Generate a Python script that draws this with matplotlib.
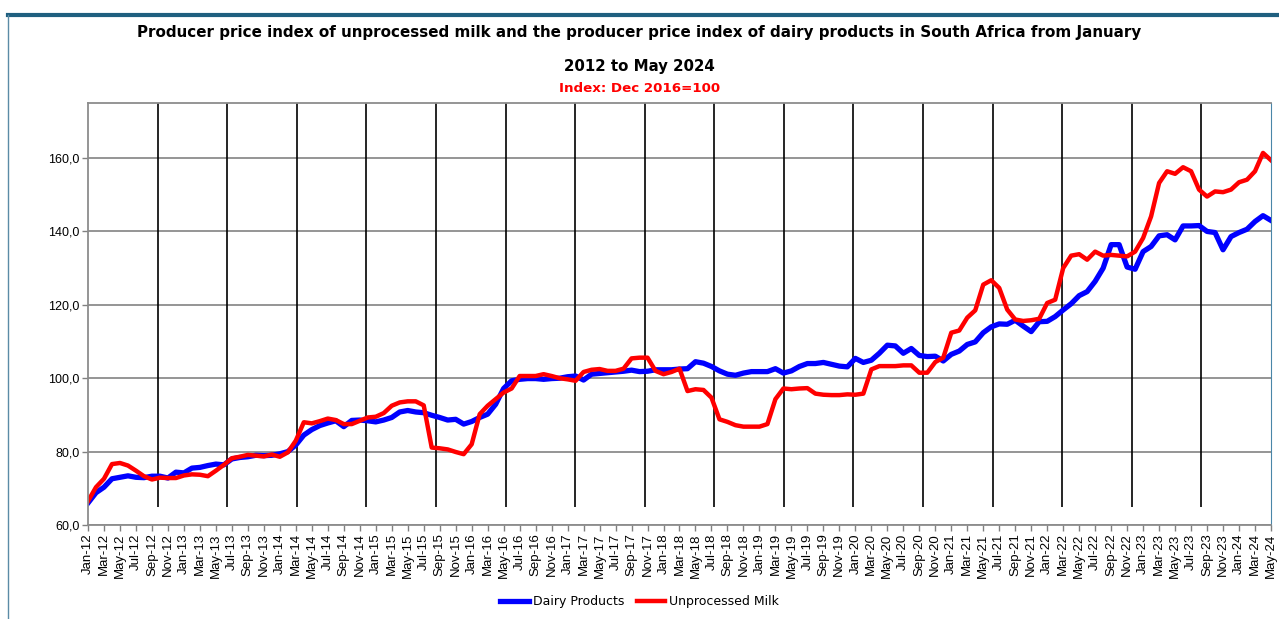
import numpy as np
import pandas as pd
import matplotlib.pyplot as plt
from matplotlib import font_manager
from matplotlib.lines import Line2D

# monthly index values, Jan 2012 .. May 2024 (Dec 2016 = 100)
months = pd.date_range('2012-01-01', periods=149, freq='MS').strftime('%b-%y').tolist()

dairy = [66.0, 68.8, 70.3, 72.6, 73.0, 73.4, 73.0, 72.9, 73.3, 73.3, 72.8, 74.4,
         74.2, 75.5, 75.7, 76.2, 76.6, 76.4, 78.0, 78.4, 78.6, 79.0, 78.9, 79.0,
         79.4, 80.0, 81.8, 84.5, 86.0, 87.1, 87.8, 88.4, 86.8, 88.5, 88.6, 88.4,
         88.1, 88.6, 89.3, 90.8, 91.2, 90.8, 90.6, 89.9, 89.3, 88.6, 88.8, 87.5,
         88.2, 89.3, 90.2, 92.9, 97.2, 99.3, 99.7, 99.9, 99.9, 99.7, 99.9, 100.0,
         100.4, 100.6, 99.5, 101.1, 101.3, 101.5, 101.7, 101.9, 102.2, 101.8, 101.9, 102.3,
         102.3, 102.3, 102.5, 102.6, 104.5, 104.1, 103.2, 102.0, 101.1, 100.8, 101.4, 101.8,
         101.8, 101.8, 102.6, 101.4, 102.0, 103.2, 104.0, 104.0, 104.3, 103.8, 103.3, 103.1,
         105.4, 104.3, 104.9, 106.8, 109.0, 108.8, 106.8, 108.1, 106.2, 105.9, 106.0, 104.7,
         106.5, 107.4, 109.2, 109.9, 112.4, 114.0, 114.8, 114.7, 115.8, 114.2, 112.7, 115.4,
         115.5, 116.8, 118.6, 120.3, 122.5, 123.6, 126.4, 130.0, 136.4, 136.4, 130.3, 129.7,
         134.5, 135.9, 138.8, 139.1, 137.7, 141.5, 141.5, 141.6, 140.0, 139.7, 135.0, 138.6,
         139.7, 140.6, 142.7, 144.3, 143.0]

milk = [66.5, 70.3, 72.6, 76.6, 76.9, 76.2, 74.8, 73.3, 72.4, 72.9, 72.8, 72.8,
        73.5, 73.8, 73.7, 73.3, 74.8, 76.4, 78.2, 78.6, 79.1, 78.9, 78.7, 79.2,
        78.6, 79.8, 83.0, 88.0, 87.7, 88.3, 89.0, 88.6, 87.5, 87.5, 88.4, 89.3,
        89.5, 90.5, 92.5, 93.4, 93.7, 93.7, 92.6, 81.1, 80.9, 80.6, 79.9, 79.3,
        82.0, 90.2, 92.5, 94.3, 96.1, 97.2, 100.6, 100.6, 100.6, 101.1, 100.6, 100.0,
        99.7, 99.3, 101.7, 102.3, 102.5, 102.0, 102.0, 102.6, 105.4, 105.6, 105.6, 102.0,
        101.1, 101.7, 102.6, 96.5, 97.0, 96.8, 94.7, 88.8, 88.1, 87.2, 86.8, 86.8,
        86.8, 87.5, 94.3, 97.2, 97.0, 97.2, 97.3, 95.8, 95.5, 95.4, 95.4, 95.6,
        95.5, 95.8, 102.4, 103.3, 103.3, 103.3, 103.5, 103.5, 101.5, 101.5, 104.4, 105.6,
        112.4, 113.0, 116.5, 118.5, 125.5, 126.7, 124.6, 118.7, 116.0, 115.6, 115.8, 116.2,
        120.5, 121.4, 130.0, 133.4, 133.8, 132.3, 134.5, 133.4, 133.6, 133.4, 133.2, 134.5,
        138.2, 144.1, 153.2, 156.4, 155.7, 157.5, 156.4, 151.4, 149.5, 150.9, 150.7, 151.4,
        153.4, 154.1, 156.4, 161.4, 159.4]

yticks = [60, 80, 100, 120, 140, 160]

# pick a narrow font if one is around, else plain Liberation Sans
narrow_name = 'Liberation Sans'
for f in font_manager.fontManager.ttflist:
    if 'Narrow' in f.name or 'Condensed' in f.name or 'condensed' in str(f.stretch):
        narrow_name = f.name
        break
narrow = [narrow_name, 'DejaVu Sans']
plt.rcParams['font.family'] = ['Liberation Sans', 'DejaVu Sans']

fig = plt.figure(figsize=(12.79, 6.19), dpi=100)
W, H = 1279, 619
ax = fig.add_axes([88 / W, 1 - 525 / H, (1271 - 88) / W, (525 - 103) / H])

x = np.arange(len(months))
ax.plot(x, dairy, color='#0000FF', lw=3.8, label='Dairy Products')
ax.plot(x, milk, color='#FF0000', lw=3.2, label='Unprocessed Milk')

ax.set_xlim(0, len(months) - 1)
ax.set_ylim(60, 175)

# horizontal grid + black vertical divider lines
ax.set_yticks(yticks)
ax.set_yticklabels([f'{v:.1f}'.replace('.', ',') for v in yticks], fontsize=9)
ax.yaxis.grid(True, color='#8c8c8c', lw=1.3)
ax.set_axisbelow(True)
ax.vlines(np.linspace(0, len(months) - 1, 18)[1:-1], 65, 175, color='black', lw=1.2, zorder=1)

ax.set_xticks(x[::2])
ax.set_xticklabels(months[::2], rotation=90, fontsize=9.5)
ax.tick_params(axis='both', colors='#808080', length=4, width=1)
ax.tick_params(axis='both', labelcolor='black', pad=2)

for s in ['left', 'bottom', 'top']:
    ax.spines[s].set_color('#8c8c8c')
    ax.spines[s].set_linewidth(1.3)
ax.spines['right'].set_color('#4a86a8')

t1 = fig.text(0.5, 1 - 33 / H,
              'Producer price index of unprocessed milk and the producer price index of dairy products in South Africa from January',
              ha='center', va='center', fontsize=16, fontweight='bold', family=narrow)
t2 = fig.text(0.5, 1 - 66 / H, '2012 to May 2024', ha='center', va='center',
              fontsize=16, fontweight='bold', family=narrow)
t3 = fig.text(0.5, 1 - 89 / H, 'Index: Dec 2016=100', ha='center', va='center',
              fontsize=12.5, fontweight='bold', color='#FF0000', family=narrow)

leg = fig.legend(loc='center', bbox_to_anchor=(0.5, 1 - 602 / H), ncol=2, frameon=False,
                 prop={'family': narrow, 'size': 9}, handlelength=2.3, columnspacing=1.0,
                 handletextpad=0.3)

# size each title line to the width it has in the original
fig.canvas.draw()
for t, w in ((t1, 1013), (t2, 151), (t3, 161)):
    k = w / t.get_window_extent().width
    t.set_fontsize(min(t.get_fontsize() * k, 16))

# outer frame of the chart
fig.add_artist(Line2D([8 / W, 1], [1 - 15 / H, 1 - 15 / H], color='#1f5f7f', lw=3))
fig.add_artist(Line2D([8 / W, 8 / W], [0, 1 - 15 / H], color='#5b8ba6', lw=1))

fig.savefig('out.png', dpi=100)
